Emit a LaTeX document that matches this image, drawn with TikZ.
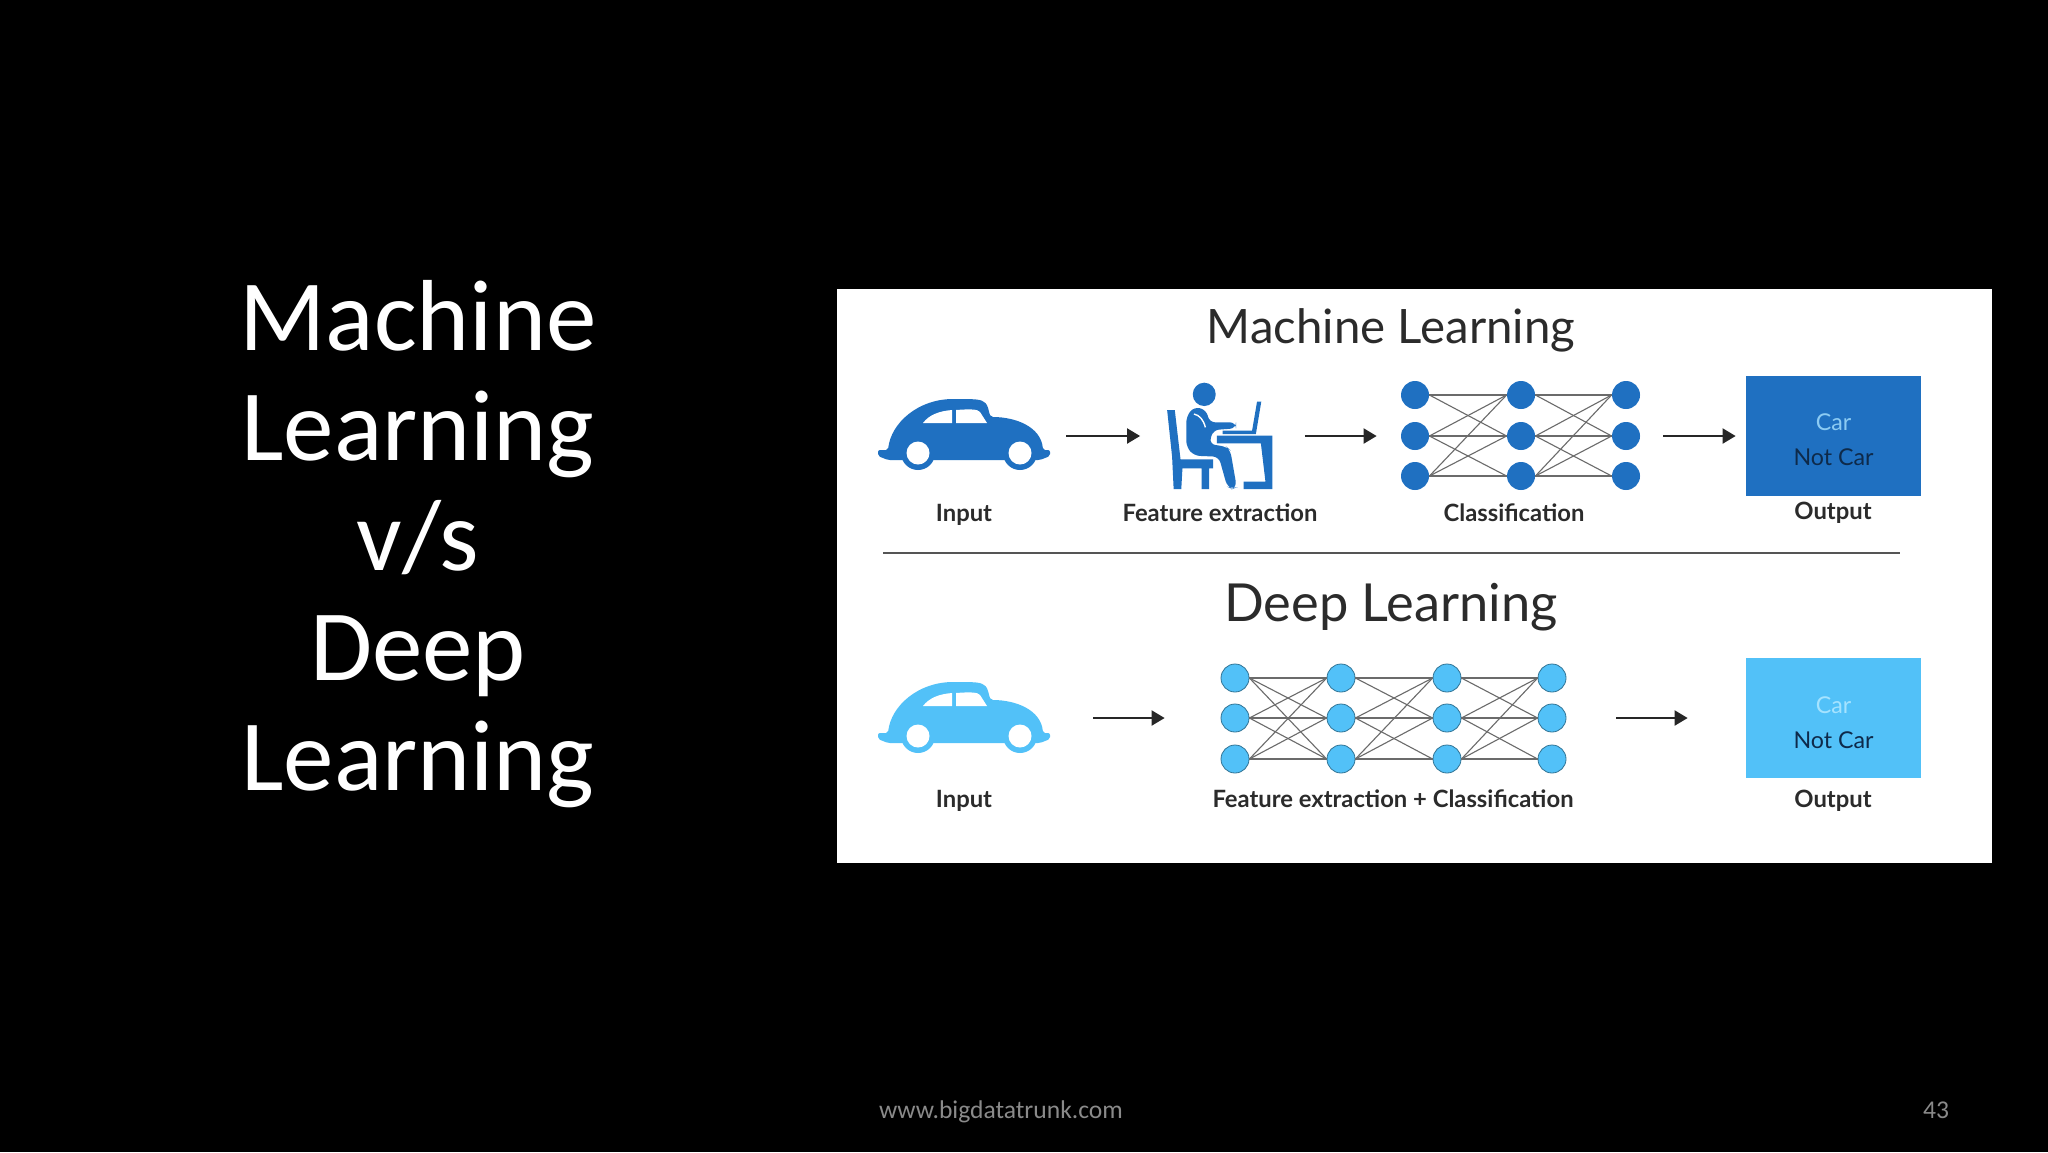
\documentclass[tikz,border=0pt]{standalone}
\usepackage{xcolor}
\usepackage{fontspec}
\setmainfont{Lato}
\newfontfamily\slidefont{Carlito}
\usetikzlibrary{arrows.meta, positioning, calc}
\definecolor{mlblue}{HTML}{1F70C1}
\definecolor{dlblue}{HTML}{52C1F8}
\definecolor{mlcar}{HTML}{8CCBF3}
\definecolor{dlcar}{HTML}{A5E3FF}
\definecolor{notcar}{HTML}{0E2A4A}
\definecolor{inkgray}{HTML}{2B2B2B}
\definecolor{footgray}{HTML}{8A8A8A}
\tikzset{
  pics/beetle/.style={code={
    \fill[#1, rounded corners=1pt] (-86,-3) -- (-76,-3) .. controls (-73,-30) and (-46,-54) .. (-9,-54) .. controls (5,-54) and (15,-54) .. (20,-51) .. controls (24,-48) and (25,-40) .. (27,-36) .. controls (52,-36) and (77,-26) .. (79,-3) -- (86,-3) -- (86,3) -- (76,7) -- (-76,7) -- (-86,3) -- cycle;
    \fill[#1] (-46,0) circle (17) (56,0) circle (17);
    \fill[white] (-46,0) circle (11.5) (56,0) circle (11.5);
    \fill[white] (-41,-30) .. controls (-35,-38) and (-25,-42) .. (-12,-43) -- (-12,-30) -- cycle;
    \fill[white] (-8,-30) -- (-8,-43) .. controls (5,-44) and (14,-44) .. (16,-41) -- (23,-30) -- cycle;
  }}
}
\begin{document}
\begin{tikzpicture}[
  x=0.5pt, y=-0.5pt,
  iconbox/.style={inner sep=0pt, minimum height=60pt},
  neuron/.style={circle, inner sep=0pt, minimum size=14pt, fill=#1},
  wire/.style={draw=inkgray!70, line width=0.55pt},
  flow/.style={-{Triangle[length=6.5pt,width=7.5pt]}, line width=1pt, color=black!85},
  caption/.style={anchor=base, font=\fontsize{11.9}{14}\selectfont\bfseries, color=inkgray},
  heading/.style={anchor=base, color=inkgray},
  outbox/.style={rectangle, inner sep=0pt, minimum width=87.5pt, minimum height=60pt, fill=#1},
  outtext/.style={anchor=base, font=\fontsize{11.6}{13}\selectfont},
  footnote/.style={anchor=base, text=footgray, font=\slidefont\fontsize{12.8}{15}\selectfont}
]
  \useasboundingbox (0,0) rectangle (2048,1152);
  \fill[black] (0,0) rectangle (2048,1152);

  % Slide text
  \node[align=center, text=white, font=\slidefont\fontsize{50.5}{55}\selectfont] (slidetitle) at (418,544) {Machine\\Learning\\v/s\\Deep\\Learning};
  \node[footnote] (footer) at (1001,1118) {www.bigdatatrunk.com};
  \node[footnote] (pagenum) at (1936,1118) {43};

  % Panel
  \fill[white] (837,289) rectangle (1992,863);
  \node[heading, font=\fontsize{23.7}{28}\selectfont] (mltitle) at (1391,343) {Machine Learning};
  \node[heading, font=\fontsize{26.2}{30}\selectfont] (dltitle) at (1391,621) {Deep Learning};
  \draw[color=inkgray!80, line width=0.8pt] (883,553) -- (1900,553);

  % Icons
  \node[iconbox, minimum width=86pt] (carml) at (964,436) {};
  \node[iconbox, minimum width=86pt] (cardl) at (964,718) {};
  \pic at (964,453) {beetle=mlblue};
  \pic at (964,736) {beetle=dlblue};
  \node[iconbox, minimum width=52.5pt] (personml) at (1220,436) {};

  % Person at the desk
  \begin{scope}[shift={(840,290)}, x=0.1913pt, y=-0.1667pt]
    \fill[mlblue] (952,313) circle [x radius=30, y radius=35];
    \fill[mlblue] (855,360) -- (875,360) -- (890,508) -- (975,508) -- (975,535) -- (965,535) -- (965,597) -- (945,597) -- (945,535) -- (895,535) -- (892,597) -- (872,597) -- (868,500) -- cycle;
    \fill[mlblue, rounded corners=3pt] (905,380) -- (925,350) -- (958,360) -- (965,397) -- (1035,397) -- (1035,415) -- (975,420) -- (965,462) -- (1010,470) -- (1020,480) -- (1037,592) -- (1025,597) -- (1012,590) -- (990,500) -- (925,497) -- (905,470) -- cycle;
    \draw[white, line width=0.7pt] (925,372) .. controls (940,375) and (950,390) .. (955,412);
    \fill[mlblue] (1090,335) -- (1101,335) -- (1087,432) -- (1000,432) -- (1000,422) -- (1077,422) -- cycle;
    \fill[mlblue] (985,437) -- (1130,437) -- (1130,597) -- (1055,597) -- (1055,575) -- (1112,575) -- (1100,460) -- (985,460) -- cycle;
  \end{scope}

  % Neurons
  \foreach \col/\xpos in {1/1415, 2/1521, 3/1626} {
    \foreach \row/\ypos in {1/395, 2/436, 3/476} {
      \node[neuron=mlblue] (m\col\row) at (\xpos,\ypos) {};
    }
  }
  \foreach \col/\xpos in {1/1235, 2/1341, 3/1447, 4/1552} {
    \foreach \row/\ypos in {1/678, 2/718, 3/759} {
      \node[neuron=dlblue, draw=dlblue!60!black, line width=0.4pt] (d\col\row) at (\xpos,\ypos) {};
    }
  }

  % Wires
  \foreach \a/\b in {1/2, 2/3} {
    \foreach \p/\q in {1/1, 1/2, 2/1, 2/2, 2/3, 3/1, 3/2, 3/3} {
      \draw[wire] (m\a\p.east) -- (m\b\q.west);
    }
  }
  \foreach \a/\b in {2/3, 3/4} {
    \foreach \p/\q in {1/1, 1/2, 2/1, 2/2, 2/3, 3/1, 3/2, 3/3} {
      \draw[wire] (d\a\p.east) -- (d\b\q.west);
    }
  }
  \foreach \p in {1,2,3} {
    \foreach \q in {1,2,3} {
      \draw[wire] (d1\p.east) -- (d2\q.west);
    }
  }

  % Output boxes
  \node[outbox=mlblue] (outml) at (1833.5,436) {};
  \node[outbox=dlblue] (outdl) at (1833.5,718) {};
  \node[outtext, text=mlcar] (carmltext) at (1833.5,430) {Car};
  \node[outtext, text=notcar] (notmltext) at (1833.5,465) {Not Car};
  \node[outtext, text=dlcar] (cardltext) at (1833.5,713) {Car};
  \node[outtext, text=notcar] (notdltext) at (1833.5,748) {Not Car};

  % Arrows
  \draw[flow, shorten <=8pt, shorten >=13.5pt] (carml) -- (personml);
  \draw[flow, shorten <=16pt, shorten >=12pt] (personml) -- (m12);
  \draw[flow, shorten <=11.5pt, shorten >=5pt] (m32) -- (outml);
  \draw[flow, shorten <=21.5pt, shorten >=28pt] (cardl) -- (d12);
  \draw[flow, shorten <=25pt, shorten >=29pt] (d42) -- (outdl);

  % Labels
  \node[caption] (inputml) at (964,521.5) {Input};
  \node[caption] (featml) at (1220,521.5) {Feature extraction};
  \node[caption] (classml) at (1514,521.5) {Classification};
  \node[caption] (outputml) at (1833,519) {Output};
  \node[caption] (inputdl) at (964,807) {Input};
  \node[caption] (featdl) at (1393,807) {Feature extraction + Classification};
  \node[caption] (outputdl) at (1833,807) {Output};
\end{tikzpicture}
\end{document}
